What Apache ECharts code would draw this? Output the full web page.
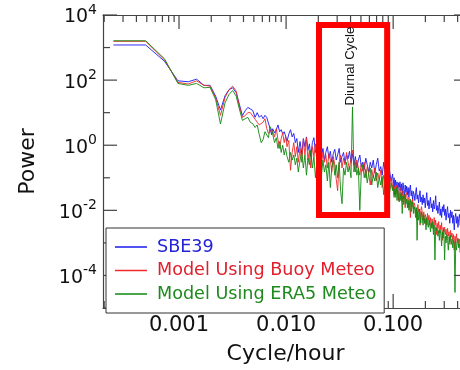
<!DOCTYPE html>
<html><head><meta charset="utf-8">
<script src="https://cdn.jsdelivr.net/npm/echarts@6/dist/echarts.min.js"></script>
<style>html,body{margin:0;padding:0;background:#fff;overflow:hidden}#c{width:470px;height:370px}</style>
</head><body><div id="c"></div>
<script>
// Frequencies (cycle/hour)
const freq = [
0.000244,0.000488,0.000732,0.000977,0.00122,0.00146,0.00171,0.00195,0.0022,0.00244,
0.00269,0.00293,0.00317,0.00342,0.00366,0.00391,0.00415,0.00439,0.00464,0.00488,
0.00513,0.00537,0.00562,0.00586,0.0061,0.00635,0.00659,0.00684,0.00708,0.00732,
0.0075,0.0078,0.0081,0.0084,0.0087,0.009,0.0093,0.0096,0.0099,0.0102,
0.0106,0.011,0.0114,0.0118,0.0122,0.0126,0.013,0.0135,0.014,0.0145,
0.015,0.0155,0.016,0.0165,0.017,0.0176,0.0182,0.0188,0.0194,0.02,
0.0207,0.0214,0.0221,0.0228,0.0235,0.0243,0.0251,0.0259,0.0267,0.0276,
0.0285,0.0294,0.0303,0.0313,0.0323,0.0333,0.0344,0.0355,0.0367,0.0379,
0.0391,0.0404,0.0417,0.043,0.0444,0.0458,0.0473,0.0488,0.0504,0.052,
0.0537,0.0555,0.0573,0.0592,0.0611,0.0631,0.0652,0.0673,0.0695,0.0718,
0.0741,0.0765,0.079,0.0816,0.0843,0.087,0.0898,0.0927,0.0957,
0.0988,0.1004,0.102,0.1036,0.1053,0.107,0.1087,0.1104,0.1122,0.114,
0.1158,0.1177,0.1196,0.1215,0.1235,0.1255,0.1275,0.1295,0.1316,0.1337,
0.1359,0.1381,0.1403,0.1426,0.1449,0.1472,0.1496,0.152,0.1545,0.157,
0.1595,0.1621,0.1647,0.1673,0.17,0.1727,0.1755,0.1783,0.1812,0.1841,
0.1871,0.1901,0.1932,0.1963,0.1995,0.2027,0.206,0.2093,0.2127,0.2161,
0.2196,0.2231,0.2267,0.2304,0.2341,0.2379,0.2417,0.2456,0.2495,0.2535,
0.2576,0.2618,0.266,0.2703,0.2746,0.279,0.2835,0.2881,0.2927,0.2974,
0.3022,0.3071,0.312,0.3171,0.3222,0.3274,0.3327,0.3381,0.3435,0.349,
0.3546,0.3603,0.3661,0.372,0.378,0.3841,0.3903,0.3966,0.403,0.4095,
0.4161,0.4228,0.4296,0.4365,0.4435,0.4507,0.4579,0.4653,0.4728,0.4804,
0.4881,0.494,0.5];

// Power spectral density, SBE39 observations
const sbe39 = [
1200,1200,380,95,89,107,69,69,32,12,
33,51,58,41,18,8.1,11.5,14.5,13,11.7,
7.2,10,7.2,8.3,6.5,8.3,7.2,6.5,3.3,2.1,
3.2,2.4,3.0,4.2,2.6,3.0,2.2,2.6,1.9,1.3,
2.2,3.0,1.8,2.3,1.2,1.6,0.6,1.3,0.55,1.6,
0.9,1.8,0.7,1.1,0.45,1.2,1.7,0.6,0.9,0.5,
0.7,0.45,0.8,0.35,0.6,0.9,0.4,0.65,0.3,0.55,
0.75,0.35,0.5,0.8,0.3,0.45,0.6,0.28,0.5,0.38,
0.65,0.3,0.55,0.25,0.45,0.2,0.35,0.5,0.22,0.3,
0.18,0.4,0.25,0.15,0.3,0.2,0.35,0.14,0.25,0.4,
0.16,0.22,0.12,0.3,0.15,0.2,0.09,0.16,0.08,
0.13,0.06,0.1,0.05,0.085,0.045,0.075,0.035,0.07,0.05,
0.075,0.04,0.065,0.03,0.07,0.045,0.028,0.06,0.035,0.055,
0.03,0.05,0.025,0.045,0.06,0.028,0.04,0.02,0.038,0.03,
0.02,0.035,0.05,0.022,0.03,0.017,0.028,0.04,0.018,0.025,
0.015,0.03,0.017,0.024,0.012,0.022,0.035,0.014,0.02,0.011,
0.018,0.025,0.012,0.016,0.009,0.02,0.011,0.015,0.028,0.01,
0.014,0.008,0.012,0.018,0.007,0.011,0.006,0.013,0.009,0.015,
0.007,0.011,0.005,0.009,0.013,0.006,0.008,0.004,0.01,0.006,
0.009,0.004,0.007,0.0025,0.006,0.008,0.004,0.0065,0.003,0.0055,
0.0075,0.0035,0.005,0.002,0.0045,0.006,0.003,0.005,0.0028,0.0042,
0.0035,0.005,0.003];

// Model forced with buoy meteorology
const modelBuoy = [
1550,1550,420,85,76,95,69,66,28,8.3,
29,51,65,46,16,7.2,8.1,10,10,7.9,
6.3,5.1,4.2,4.6,5.1,6.5,3.3,2.3,2.6,3.0,
2.6,1.8,3.2,1.5,0.8,1.6,2.4,1.2,1.9,0.9,
1.4,0.17,0.6,1.2,0.45,0.9,0.3,0.8,0.3,1.5,
0.5,1.7,0.35,0.7,0.2,0.9,0.45,1.1,0.3,0.6,
0.45,0.25,0.6,0.3,0.5,0.2,0.55,0.35,0.15,0.45,
0.25,0.09,0.04,0.3,0.5,0.2,0.4,0.25,0.6,0.3,
0.18,0.4,0.7,0.3,0.15,0.35,0.2,0.12,0.28,0.16,
0.3,0.1,0.22,0.13,0.06,0.18,0.1,0.2,0.08,0.14,
0.09,0.17,0.05,0.12,0.07,0.015,0.09,0.06,0.1,
0.045,0.07,0.03,0.055,0.025,0.06,0.035,0.05,0.02,0.04,
0.05,0.025,0.035,0.018,0.04,0.022,0.03,0.012,0.028,0.035,
0.02,0.012,0.025,0.015,0.006,0.02,0.013,0.022,0.011,0.017,
0.014,0.008,0.012,0.005,0.015,0.009,0.011,0.0035,0.01,0.013,
0.008,0.005,0.009,0.004,0.0075,0.006,0.0035,0.008,0.005,0.007,
0.0035,0.006,0.003,0.0055,0.0045,0.0025,0.006,0.0035,0.005,0.0018,
0.004,0.0028,0.0045,0.002,0.0035,0.0025,0.0042,0.0012,0.003,0.0022,
0.003,0.0018,0.0026,0.0014,0.0028,0.0016,0.0022,0.0009,0.0024,0.0015,
0.002,0.0012,0.0018,0.0006,0.0016,0.001,0.0019,0.0011,0.0014,0.0008,
0.0013,0.0008,0.0015,0.0007,0.0011,0.0005,0.0012,0.0008,0.001,0.0006,
0.0011,0.0007,0.0009];

// Model forced with ERA5 meteorology
const modelEra5 = [
1620,1620,450,79,69,79,58,60,25,4.5,
20,36,48,32,13,5.8,6.5,7.2,5.0,4.6,
3.5,4.2,2.1,1.2,1.5,2.6,2.3,1.7,3.7,3.0,
2.2,1.2,1.7,0.8,1.3,0.6,1.0,0.5,0.8,0.45,
0.3,0.6,0.35,0.5,0.25,0.4,0.15,0.35,0.6,0.2,
0.5,0.12,0.4,0.25,0.7,0.2,0.45,0.1,0.3,0.18,
0.3,0.12,0.35,0.15,0.25,0.08,0.3,0.05,0.2,0.35,
0.12,0.25,0.1,0.3,0.04,0.016,0.2,0.12,0.3,0.15,
0.22,0.1,15,0.15,0.3,0.12,0.2,0.01,0.15,0.25,
0.1,0.18,0.07,0.14,0.2,0.06,0.12,0.08,0.15,0.05,
0.1,0.06,0.11,0.03,0.08,0.05,0.09,0.035,0.07,
0.04,0.06,0.025,0.045,0.03,0.05,0.02,0.04,0.028,0.018,
0.035,0.02,0.03,0.008,0.028,0.015,0.025,0.032,0.016,0.022,
0.012,0.02,0.01,0.016,0.022,0.009,0.014,0.018,0.008,0.013,
0.01,0.006,0.012,0.0012,0.009,0.005,0.011,0.007,0.004,0.009,
0.006,0.0035,0.007,0.004,0.0055,0.0025,0.006,0.0045,0.003,0.005,
0.0038,0.0022,0.004,0.0028,0.0045,0.0018,0.0035,0.0003,0.003,0.0024,
0.0028,0.0016,0.0024,0.0012,0.0025,0.0018,0.0008,0.0022,0.0014,0.0026,
0.0003,0.0016,0.001,0.0018,0.0012,0.0006,0.0015,0.0011,0.0017,0.0009,
0.0013,0.0007,0.0012,0.0009,0.00003,0.0011,0.0006,0.001,0.0013,0.0007,
0.0009,0.0005,0.0008,0.0004,0.0009,0.0006,0.0003,0.0008,0.0005,0.0007,
0.0006,0.0004,0.0006];

const seriesNames = ['SBE39', 'Model Using Buoy Meteo', 'Model Using ERA5 Meteo'];
const xRange = [0.000195, 0.5];
const yRange = [1e-5, 1e4];
const xLabelValues = [0.001, 0.01, 0.1];
const xMajorTicks = [0.001, 0.01, 0.1];
const xMinorTicks = [0.0002,0.0003,0.0004,0.0005,0.0006,0.0007,0.0008,0.0009,
  0.002,0.003,0.004,0.005,0.006,0.007,0.008,0.009,
  0.02,0.03,0.04,0.05,0.06,0.07,0.08,0.09,0.2,0.3,0.4,0.5];
const yLabelValues = [1e-4, 1e-2, 1, 1e2, 1e4];
const yMajorTicks = [1e-4, 1e-2, 1, 1e2, 1e4];
const yMinorTicks = [1e-5, 1e-3, 1e-1, 10, 1e3];
const diurnalBoxFreq = [0.0203, 0.0879];
const diurnalBoxPower = [0.0072, 4900];
const diurnalLabelAt = [0.0396, 270];
const diurnalLabel = 'Diurnal Cycle';

const FONT = 'DejaVu Sans';
const AX = '#444';
const MAJOR_LEN = 14, MINOR_LEN = 7;
const lineColors = ['#1a1af0', '#f02828', '#108a10'];
const textColors = ['#2323d8', '#e0202c', '#1e8a1e'];
const lg = Math.log10;

const noAxisBits = { splitLine: { show: false }, minorTick: { show: false }, minorSplitLine: { show: false } };

const xAxes = [
  Object.assign({
    type: 'log', logBase: 10, gridIndex: 0, position: 'bottom',
    min: xRange[0], max: xRange[1],
    axisLine: { show: true, onZero: false, lineStyle: { color: AX, width: 1.2 } },
    axisTick: { show: false }, axisLabel: { show: false },
    name: 'Cycle/hour', nameLocation: 'middle', nameGap: 35,
    nameTextStyle: { fontFamily: FONT, fontSize: 22, color: '#111' }
  }, noAxisBits),
  Object.assign({
    type: 'log', logBase: 10, gridIndex: 0, position: 'top',
    min: xRange[0], max: xRange[1],
    axisLine: { show: true, onZero: false, lineStyle: { color: AX, width: 1.2 } },
    axisTick: { show: false }, axisLabel: { show: false }
  }, noAxisBits)
];
const yAxes = [
  Object.assign({
    type: 'log', logBase: 10, gridIndex: 0, position: 'left',
    min: yRange[0], max: yRange[1],
    axisLine: { show: true, onZero: false, lineStyle: { color: AX, width: 1.2 } },
    axisTick: { show: false },
    axisLabel: {
      show: true, customValues: yLabelValues, margin: 6,
      formatter: v => '{b|10}{s|' + Math.round(lg(v)) + '}',
      rich: {
        b: { fontFamily: FONT, fontSize: 19, color: '#111', verticalAlign: 'bottom', lineHeight: 24 },
        s: { fontFamily: FONT, fontSize: 14, color: '#111', verticalAlign: 'top', lineHeight: 14 }
      }
    },
    name: 'Power', nameLocation: 'middle', nameGap: 64,
    nameTextStyle: { fontFamily: FONT, fontSize: 22, color: '#111' }
  }, noAxisBits),
  Object.assign({
    type: 'log', logBase: 10, gridIndex: 0, position: 'right',
    min: yRange[0], max: yRange[1],
    axisLine: { show: true, onZero: false, lineStyle: { color: AX, width: 1.2 } },
    axisTick: { show: false }, axisLabel: { show: false }
  }, noAxisBits)
];

function mkSeries(i, values, extra) {
  return Object.assign({
    type: 'line', name: seriesNames[i], xAxisIndex: 0, yAxisIndex: 0,
    data: freq.map((f, k) => [f, values[k]]),
    symbol: 'none', showSymbol: false, silent: true,
    lineStyle: { color: lineColors[i], width: 1, opacity: 0.9 },
    itemStyle: { color: lineColors[i] },
    z: 2
  }, extra || {});
}

// inward tick marks on all four sides and the x tick labels, placed through the axes' own scales
const tickStyle = { stroke: AX, lineWidth: 1.2 };
const xTickData = xMajorTicks.map(v => [v, yRange[0], MAJOR_LEN]).concat(xMinorTicks.map(v => [v, yRange[0], MINOR_LEN]));
const yTickData = yMajorTicks.map(v => [xRange[0], v, MAJOR_LEN]).concat(yMinorTicks.map(v => [xRange[0], v, MINOR_LEN]));
const xTickSeries = {
  type: 'custom', xAxisIndex: 0, yAxisIndex: 0, silent: true, z: 4, clip: false,
  data: xTickData,
  renderItem: (params, api) => {
    const cs = params.coordSys;
    const px = api.coord([api.value(0), yRange[0]])[0];
    const len = api.value(2);
    const top = cs.y, bot = cs.y + cs.height;
    return { type: 'group', children: [
      { type: 'line', shape: { x1: px, y1: bot, x2: px, y2: bot - len }, style: tickStyle },
      { type: 'line', shape: { x1: px, y1: top, x2: px, y2: top + len }, style: tickStyle }
    ] };
  }
};
const xLabelSeries = {
  type: 'custom', xAxisIndex: 0, yAxisIndex: 0, silent: true, z: 4, clip: false,
  data: xLabelValues.map(v => [v, yRange[0]]),
  renderItem: (params, api) => {
    const cs = params.coordSys;
    const v = api.value(0);
    const px = api.coord([v, yRange[0]])[0];
    return {
      type: 'text', x: px, y: cs.y + cs.height + 7,
      style: {
        text: v.toFixed(3), fill: '#111', font: '21px "DejaVu Sans"',
        align: 'center', verticalAlign: 'top', textAlign: 'center', textVerticalAlign: 'top'
      }
    };
  }
};
const yTickSeries = {
  type: 'custom', xAxisIndex: 0, yAxisIndex: 0, silent: true, z: 4, clip: false,
  data: yTickData,
  renderItem: (params, api) => {
    const cs = params.coordSys;
    const py = api.coord([xRange[0], api.value(1)])[1];
    const len = api.value(2);
    const l = cs.x, r = cs.x + cs.width;
    return { type: 'group', children: [
      { type: 'line', shape: { x1: l, y1: py, x2: l + len, y2: py }, style: tickStyle },
      { type: 'line', shape: { x1: r, y1: py, x2: r - len, y2: py }, style: tickStyle }
    ] };
  }
};

const option = {
  animation: false,
  backgroundColor: '#fff',
  grid: { left: 103, top: 15, width: 365, height: 302, containLabel: false },
  xAxis: xAxes,
  yAxis: yAxes,
  legend: {
    orient: 'vertical', left: 106, top: 228,
    padding: [10, 8, 10, 9], itemGap: 5.5, itemWidth: 32, itemHeight: 1.5,
    icon: 'rect',
    backgroundColor: '#fff', borderColor: '#333', borderWidth: 1, borderRadius: 0,
    textStyle: { fontFamily: FONT, fontSize: 17.6, padding: [0, 0, 0, 5] },
    data: seriesNames.map((n, i) => ({ name: n, textStyle: { color: textColors[i] } })),
    z: 20
  },
  series: [
    mkSeries(0, sbe39),
    mkSeries(1, modelBuoy),
    mkSeries(2, modelEra5, {
      markArea: {
        silent: true, z: 10,
        itemStyle: { color: 'rgba(0,0,0,0)', borderColor: '#ff0000', borderWidth: 6 },
        label: { show: false },
        data: [[
          { coord: [diurnalBoxFreq[0], diurnalBoxPower[1]] },
          { coord: [diurnalBoxFreq[1], diurnalBoxPower[0]] }
        ]]
      },
      markPoint: {
        silent: true, z: 10,
        symbol: 'circle', symbolSize: 1,
        itemStyle: { color: 'rgba(0,0,0,0)' },
        label: {
          show: true, position: 'inside', rotate: 90,
          formatter: diurnalLabel, fontFamily: 'Liberation Sans', fontSize: 13.3, color: '#111'
        },
        data: [{ coord: diurnalLabelAt }]
      }
    }),
    xTickSeries,
    yTickSeries,
    xLabelSeries
  ]
};

const chart = echarts.init(document.getElementById('c'), null, { renderer: 'canvas' });
chart.setOption(option);
</script>
</body></html>
